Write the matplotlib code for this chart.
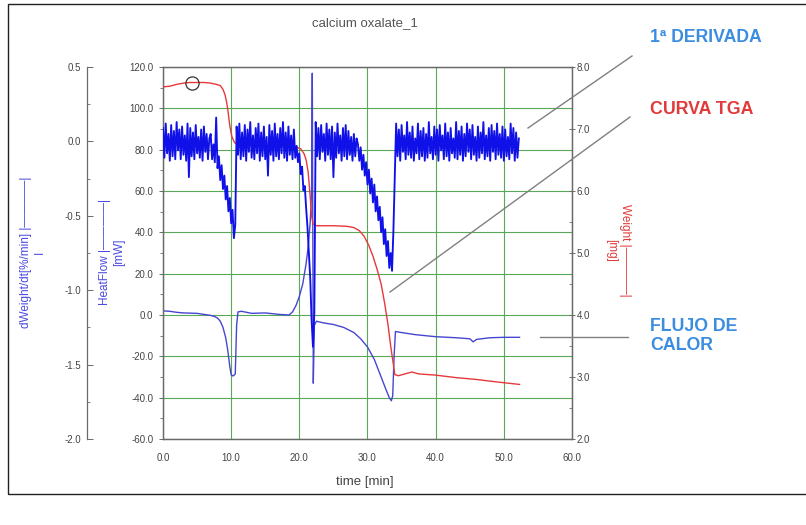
import numpy as np
import matplotlib
matplotlib.use("Agg")
import matplotlib.pyplot as plt
from matplotlib.ticker import MultipleLocator, FormatStrFormatter
from matplotlib.lines import Line2D
from matplotlib.patches import Rectangle

plt.rcParams['font.family'] = ['Liberation Sans', 'DejaVu Sans']

# ---- TGA weight curve (mg) ----
weight_time = [0.0, 1.0, 2.0, 3.0, 4.0, 5.0, 6.0, 7.0, 7.8, 8.4, 8.8, 9.1, 9.3,
               9.5, 9.8, 10.1, 10.5, 11.0, 12.0, 15.0, 18.0, 19.5, 20.2, 20.7,
               21.0, 21.3, 21.6, 21.8, 22.0, 22.5, 25.0, 27.0, 28.0, 28.8, 29.5,
               30.2, 30.8, 31.4, 32.0, 32.5, 33.0, 33.4, 33.8, 34.0, 34.5, 35.5,
               36.5, 37.5, 40.0, 43.0, 46.0, 49.0, 52.3]
weight_mg = [7.68, 7.69, 7.72, 7.74, 7.75, 7.75, 7.75, 7.74, 7.72, 7.70, 7.64,
             7.55, 7.45, 7.32, 7.05, 6.88, 6.78, 6.75, 6.74, 6.73, 6.72, 6.71,
             6.68, 6.60, 6.50, 6.30, 5.90, 5.60, 5.47, 5.44, 5.44, 5.43, 5.41,
             5.36, 5.27, 5.12, 4.95, 4.74, 4.50, 4.20, 3.85, 3.50, 3.20, 3.04,
             3.02, 3.05, 3.08, 3.05, 3.03, 2.99, 2.96, 2.92, 2.88]

# marked point on the weight curve
marker_time = 4.25
marker_weight = 7.75

# ---- heat flow (mW) ----
heat_time = [0.0, 1.0, 2.0, 3.0, 4.0, 5.0, 6.0, 7.0, 7.6, 8.0, 8.4, 8.8, 9.2,
             9.5, 9.8, 10.0, 10.3, 10.6, 10.8, 11.0, 11.5, 13.0, 15.0, 17.0,
             18.5, 19.0, 19.5, 20.0, 20.5, 21.0, 21.3, 21.6, 21.8, 21.9, 22.0,
             22.05, 22.2, 22.5, 23.5, 25.0, 26.5, 28.0, 29.0, 30.0, 31.0, 32.0,
             32.7, 33.2, 33.5, 33.7, 33.9, 34.1, 35.0, 37.0, 40.0, 43.0, 45.0,
             45.5, 46.0, 48.0, 50.0, 52.3]
heat_mw = [2.0, 1.8, 1.3, 1.0, 0.9, 0.8, 0.3, -0.2, -0.8, -1.5, -3.0, -6.0,
           -11.0, -17.0, -25.0, -29.0, -29.5, -28.5, -5.0, 1.5, 1.8, 0.8, 1.0,
           0.3, 0.0, 1.5, 4.5, 9.0, 15.0, 25.0, 33.0, 45.0, 60.0, 117.0, 20.0,
           -33.0, -5.0, -3.0, -3.8, -4.6, -6.0, -8.5, -11.5, -15.5, -21.5,
           -30.0, -36.0, -40.0, -41.5, -39.0, -20.0, -8.0, -8.5, -9.5, -10.5,
           -11.0, -11.5, -13.0, -11.8, -11.0, -10.8, -10.8]

# ---- first derivative dWeight/dt (%/min), sampled every 0.2 min from t = 0 ----
deriv_start = 0.0
deriv_step = 0.2
deriv_a = [0.09, -0.11, 0.12, -0.08, 0.05, -0.13, 0.11, -0.10, 0.07, -0.12,
           0.13, -0.06, 0.08, -0.12, 0.10, -0.09, 0.04, -0.13, 0.12, -0.24,
           0.09, -0.10, 0.06, -0.12, 0.11, -0.08, 0.03, -0.11, 0.08, -0.13,
           0.10, -0.07, 0.05, -0.12, 0.02]
deriv_b = [0.05, -0.12, -0.02, -0.14, 0.16, -0.18, -0.10, -0.26, -0.16, -0.32,
           -0.23, -0.39, -0.30, -0.47, -0.38, -0.55, -0.46, -0.65, -0.56]
deriv_c = [0.10, -0.09, 0.12, -0.12, 0.06, -0.10, 0.11, -0.13, 0.08, -0.07,
           0.13, -0.11, 0.04, -0.12, 0.09, -0.08, 0.12, -0.13, 0.06, -0.10,
           0.10, -0.12, 0.03, -0.23, 0.11, -0.09, 0.07, -0.13, 0.12, -0.10,
           0.05, -0.12, 0.09, -0.08, 0.13, -0.11, 0.06, -0.13, 0.10, -0.09,
           0.04, -0.12, 0.08, -0.11]
deriv_d = [-0.03, -0.14, -0.08, -0.22, -0.17, -0.33, -0.30, -0.45, -0.58, -0.75,
           -0.92, -1.20, -1.38, -1.15]
deriv_e = [0.13, -0.10, 0.09, -0.12, 0.11, -0.07, 0.05, -0.13, 0.12, -0.09,
           0.08, -0.12, 0.10, -0.24, 0.06, -0.11, 0.12, -0.08, 0.04, -0.13,
           0.09, -0.10, 0.11, -0.12, 0.07, -0.09, 0.03, -0.13, 0.05, -0.10, 0.02]
deriv_f = [-0.02, -0.13, -0.04, -0.19, -0.09, -0.23, -0.14, -0.29, -0.19, -0.35,
           -0.25, -0.41, -0.29, -0.47, -0.37, -0.53, -0.44, -0.61, -0.51, -0.69,
           -0.59, -0.77, -0.67, -0.85, -0.75, -0.87, -0.60]
deriv_g = [-0.25, 0.12, -0.10, 0.08, -0.13, 0.11, -0.07, 0.04, -0.12, 0.13,
           -0.09, 0.06, -0.11, 0.10, -0.13, 0.02, -0.08, 0.12, -0.12, 0.07,
           -0.10, 0.09, -0.13, 0.05, -0.11, 0.13, -0.08, 0.03, -0.12, 0.10,
           -0.09, 0.08, -0.13, 0.11, -0.06, 0.04, -0.12, 0.12, -0.10, 0.06,
           -0.13, 0.09, -0.08, 0.02, -0.11, 0.13, -0.12, 0.07, -0.09, 0.10,
           -0.13, 0.05, -0.10, 0.12, -0.07, 0.08, -0.12, 0.11, -0.09, 0.03,
           -0.13, 0.10, -0.11, 0.06, -0.08, 0.13, -0.12, 0.04, -0.10, 0.09,
           -0.13, 0.11, -0.07, 0.07, -0.12, 0.12, -0.09, 0.05, -0.11, 0.10,
           -0.13, 0.08, -0.10, 0.03, -0.12, 0.12, -0.08, 0.09, -0.13, 0.06,
           -0.11, 0.02]

# axis ranges
time_range = (0.0, 60.0)
heat_range = (-60.0, 120.0)
weight_range = (2.0, 8.0)
deriv_range = (-2.0, 0.5)

title_text = "calcium oxalate_1"
xlabel_text = "time [min]"

# colours
C_DERIV = "#1010e8"
C_HEAT = "#4646d2"
C_WEIGHT = "#e8383c"
C_GRID = "#58a858"
C_SPINE = "#6a6a6a"
C_TICK = "#444444"
C_LABEL_BLUE = "#4a4ae0"
C_NOTE_BLUE = "#3b8de0"
C_NOTE_RED = "#e23a3a"
C_POINTER = "#808080"

TICK_FS = 7
W, H = 806, 525
fig = plt.figure(figsize=(W / 100, H / 100), dpi=100)
fig.patch.set_facecolor("white")


def fx(px):
    return px / W


def fy(py):
    return 1 - py / H


left_px, right_px, top_px, bottom_px = 163, 572, 67, 439
ax = fig.add_axes([fx(left_px), fy(bottom_px),
                   (right_px - left_px) / W, (bottom_px - top_px) / H])

# heat flow axis (main)
ax.set_xlim(*time_range)
ax.set_ylim(*heat_range)
ax.xaxis.set_major_locator(MultipleLocator(10))
ax.yaxis.set_major_locator(MultipleLocator(20))
ax.yaxis.set_minor_locator(MultipleLocator(10))
ax.xaxis.set_major_formatter(FormatStrFormatter("%.1f"))
ax.yaxis.set_major_formatter(FormatStrFormatter("%.1f"))
ax.tick_params(axis="x", length=0, pad=10, labelsize=TICK_FS, labelcolor=C_TICK)
ax.tick_params(axis="y", which="major", direction="out", length=3, width=0.7,
               color=C_SPINE, pad=4, labelsize=TICK_FS, labelcolor=C_TICK)
ax.tick_params(axis="y", which="minor", direction="out", length=2, width=0.6,
               color=C_SPINE)
ax.grid(True, which="major", color=C_GRID, linewidth=0.8)
ax.set_axisbelow(True)
for s in ax.spines.values():
    s.set_color(C_SPINE)
    s.set_linewidth(0.9)
ax.plot(heat_time, heat_mw, color=C_HEAT, linewidth=1.0, zorder=3)

# weight axis (right)
ax_w = ax.twinx()
ax_w.set_ylim(*weight_range)
ax_w.yaxis.set_major_locator(MultipleLocator(1.0))
ax_w.yaxis.set_minor_locator(MultipleLocator(0.5))
ax_w.yaxis.set_major_formatter(FormatStrFormatter("%.1f"))
ax_w.tick_params(axis="y", which="major", direction="inout", length=5, width=0.7,
                 color=C_SPINE, pad=1, labelsize=TICK_FS, labelcolor=C_TICK)
ax_w.tick_params(axis="y", which="minor", direction="in", length=2.5, width=0.6,
                 color=C_SPINE)
for s in ax_w.spines.values():
    s.set_color(C_SPINE)
    s.set_linewidth(0.9)
ax_w.plot(weight_time, weight_mg, color=C_WEIGHT, linewidth=1.0, zorder=3)
ax_w.plot([marker_time], [marker_weight], marker="o", markersize=9.5,
          markerfacecolor="none", markeredgecolor="#333333",
          markeredgewidth=0.9, zorder=4)

# derivative axis (detached spine on the far left)
ax_d = ax.twinx()
ax_d.set_ylim(*deriv_range)
ax_d.spines["right"].set_visible(False)
ax_d.spines["top"].set_visible(False)
ax_d.spines["bottom"].set_visible(False)
ax_d.spines["left"].set_visible(True)
ax_d.spines["left"].set_position(("axes", (87 - left_px) / (right_px - left_px)))
ax_d.spines["left"].set_color(C_SPINE)
ax_d.spines["left"].set_linewidth(0.9)
ax_d.yaxis.set_ticks_position("left")
ax_d.yaxis.set_label_position("left")
ax_d.yaxis.set_major_locator(MultipleLocator(0.5))
ax_d.yaxis.set_minor_locator(MultipleLocator(0.25))
ax_d.yaxis.set_major_formatter(FormatStrFormatter("%.1f"))
ax_d.tick_params(axis="y", which="major", direction="in", length=4, width=0.7,
                 color=C_SPINE, pad=4, labelsize=TICK_FS, labelcolor=C_TICK)
ax_d.tick_params(axis="y", which="minor", direction="in", length=2.5, width=0.6,
                 color=C_SPINE)
deriv_values = deriv_a + deriv_b + deriv_c + deriv_d + deriv_e + deriv_f + deriv_g
deriv_time = deriv_start + deriv_step * np.arange(len(deriv_values))
ax_d.plot(deriv_time, deriv_values, color=C_DERIV, linewidth=1.35, zorder=3)

# axis titles
fig.text(fx(33), fy(252), "dWeight/dt[%/min] |————|\nI", rotation=90,
         ha="center", va="center", ma="center", fontsize=8.5,
         color=C_LABEL_BLUE, linespacing=1.2)
fig.text(fx(112), fy(252), "HeatFlow |————|\n[mW]", rotation=90,
         ha="center", va="center", ma="center", fontsize=8.5,
         color=C_LABEL_BLUE, linespacing=1.2)
fig.text(fx(618), fy(250), "Weight |————|\n[mg]", rotation=270,
         ha="center", va="center", ma="center", fontsize=8.5,
         color=C_NOTE_RED, linespacing=1.2)
fig.text(fx(365), fy(23), title_text, ha="center", va="center", fontsize=9.5,
         color="#555555")
fig.text(fx(365), fy(482), xlabel_text, ha="center", va="center", fontsize=9.5,
         color="#444444")

# callouts
fig.text(fx(650), fy(38), "1ª DERIVADA", ha="left", va="center",
         fontsize=12.7, fontweight="bold", color=C_NOTE_BLUE)
fig.text(fx(650), fy(110), "CURVA TGA", ha="left", va="center",
         fontsize=12.8, fontweight="bold", color=C_NOTE_RED)
fig.text(fx(650), fy(336), "FLUJO DE\nCALOR", ha="left", va="center",
         fontsize=12.8, fontweight="bold", color=C_NOTE_BLUE, linespacing=1.1)

pointer_lines = [((528, 128), (632, 56)),
                 ((390, 292), (630, 117)),
                 ((540, 337), (628, 337))]
for (x0, y0), (x1, y1) in pointer_lines:
    fig.add_artist(Line2D([fx(x0), fx(x1)], [fy(y0), fy(y1)],
                          color=C_POINTER, linewidth=1.0))

# outer frame
fig.add_artist(Rectangle((fx(8), fy(494)), fx(806 + 10 - 8), (494 - 4) / H,
                         fill=False, edgecolor="#222222", linewidth=1.0,
                         clip_on=False))

fig.savefig("out.png", dpi=100, facecolor="white")
